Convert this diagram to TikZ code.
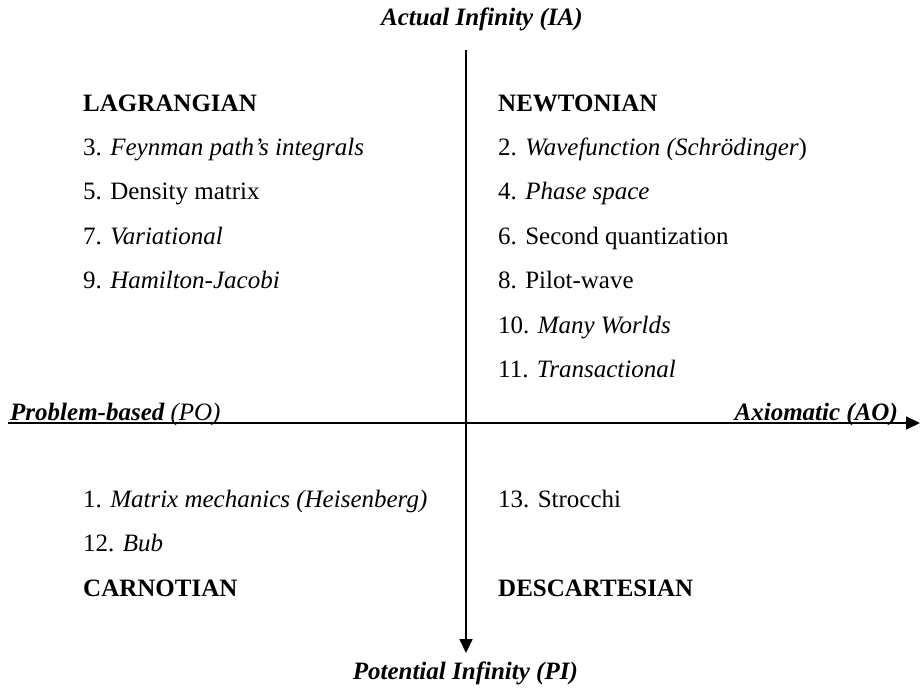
\documentclass[tikz,border=0pt]{standalone}
\usepackage{fontspec}
\setmainfont{Liberation Serif}
\usetikzlibrary{arrows.meta}
\begin{document}
\begin{tikzpicture}[x=1pt,y=-1pt,
  item/.style={anchor=base west,inner sep=0pt,font=\fontsize{25}{28}\selectfont},
  head/.style={item,font=\fontsize{25}{28}\selectfont\bfseries},
  axlabel/.style={inner sep=0pt,font=\fontsize{25}{28}\selectfont\bfseries\itshape},
  axis/.style={line width=1.7pt,-{Triangle[length=14pt,width=13pt]}}]
\useasboundingbox (0,0) rectangle (920,688);
% axes
\coordinate (vtop) at (466,50);
\coordinate (vbot) at (466,653);
\coordinate (hleft) at (8,423);
\coordinate (hright) at (920,423);
\draw[axis] (vtop) -- (vbot);
\draw[axis] (hleft) -- (hright);
% axis labels
\node[axlabel,anchor=base west] (ia) at (381,25) {Actual Infinity (IA)};
\node[axlabel,anchor=base east] (pi) at (578,679) {Potential Infinity (PI)};
\node[axlabel,anchor=base west] (po) at (10,420) {Problem-based \mdseries(PO)};
\node[axlabel,anchor=base east] (ao) at (898,420) {Axiomatic (AO)};
% upper left
\node[head] (lag) at (83,111) {LAGRANGIAN};
\node[item] (l3) at (83,155) {3. \textit{Feynman path’s integrals}};
\node[item] (l5) at (83,199.5) {5. Density matrix};
\node[item] (l7) at (83,244) {7. \textit{Variational}};
\node[item] (l9) at (83,288.5) {9. \textit{Hamilton-Jacobi}};
% upper right
\node[head] (newt) at (498,111) {NEWTONIAN};
\node[item] (r2) at (498,155) {2. \textit{Wavefunction (Schrödinger})};
\node[item] (r4) at (498,199.5) {4. \textit{Phase space}};
\node[item] (r6) at (498,244) {6. Second quantization};
\node[item] (r8) at (498,288.5) {8. Pilot-wave};
\node[item] (r10) at (498,333) {10. \textit{Many Worlds}};
\node[item] (r11) at (498,377.5) {11. \textit{Transactional}};
% lower left
\node[item] (l1) at (83,507) {1. \textit{Matrix mechanics (Heisenberg)}};
\node[item] (l12) at (83,551.5) {12. \textit{Bub}};
\node[head] (carn) at (83,596) {CARNOTIAN};
% lower right
\node[item] (r13) at (498,507) {13. Strocchi};
\node[head] (desc) at (498,596) {DESCARTESIAN};
\end{tikzpicture}
\end{document}
